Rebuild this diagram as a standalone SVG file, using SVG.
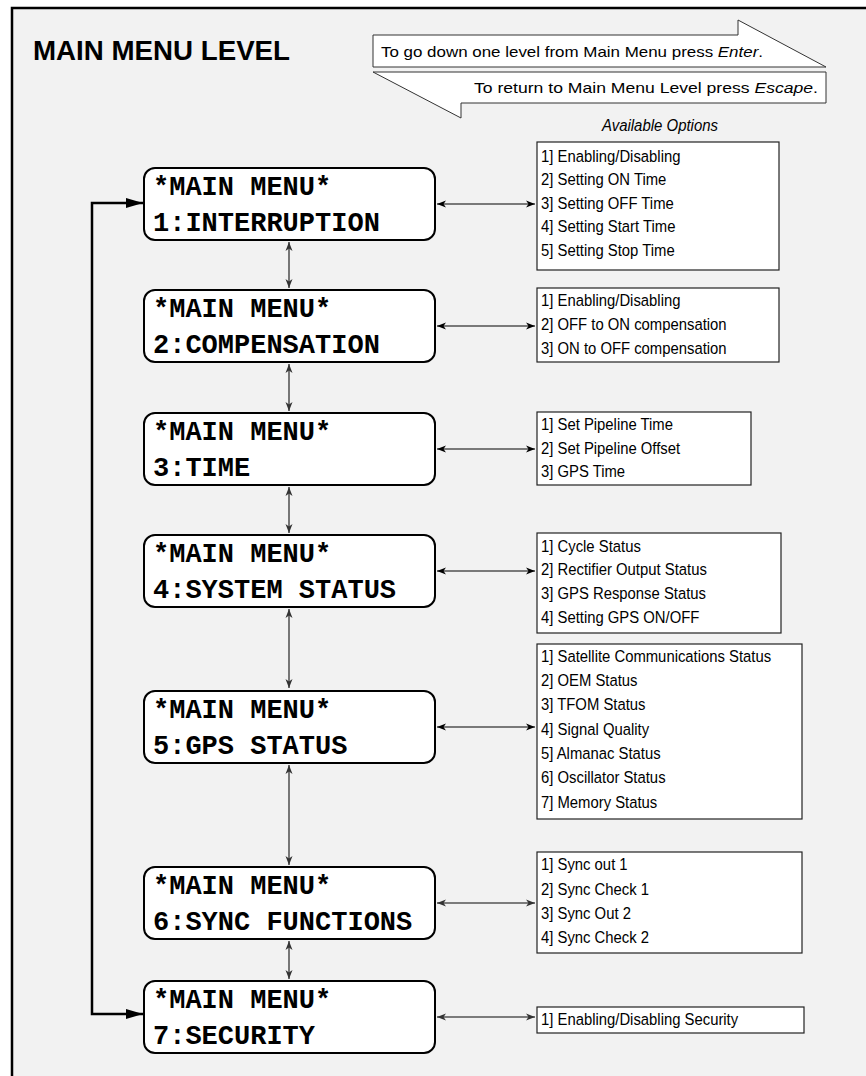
<svg xmlns="http://www.w3.org/2000/svg" width="866" height="1076" viewBox="0 0 866 1076">
  <style>
    .menu { fill: #ffffff; stroke: #000000; stroke-width: 2; }
    .mtxt { font-family: "Liberation Mono", "Courier New", monospace; font-weight: bold; font-size: 27px; fill: #000000; }
    .list { fill: #ffffff; stroke: #222222; stroke-width: 1.2; }
    .opt { font-family: "Liberation Sans", Arial, sans-serif; font-size: 16.5px; fill: #000000; }
    .hint { fill: #ffffff; stroke: #333333; stroke-width: 1; }
    .htxt { font-family: "Liberation Sans", Arial, sans-serif; font-size: 15px; fill: #000000; }
    .link { fill: none; stroke: #000000; stroke-width: 1; marker-start: url(#tip); marker-end: url(#tip); }
    .vlink { fill: none; stroke: #333333; stroke-width: 1.3; marker-start: url(#tipg); marker-end: url(#tipg); }
    .glink { fill: none; stroke: #555555; stroke-width: 1.3; marker-start: url(#tipg); marker-end: url(#tipg); }
    .loop { fill: none; stroke: #000000; stroke-width: 2.5; marker-start: url(#big); marker-end: url(#big); }
  </style>
  <defs>
    <marker id="tip" markerUnits="userSpaceOnUse" markerWidth="10" markerHeight="8" refX="9" refY="4" orient="auto-start-reverse">
      <path d="M0,0.5 L9,4 L0,7.5 L2.5,4 z" fill="#000000"/>
    </marker>
    <marker id="tipg" markerUnits="userSpaceOnUse" markerWidth="10" markerHeight="8" refX="9" refY="4" orient="auto-start-reverse">
      <path d="M0,0.5 L9,4 L0,7.5 L2.5,4 z" fill="#333333"/>
    </marker>
    <marker id="big" markerUnits="userSpaceOnUse" markerWidth="18" markerHeight="12" refX="17" refY="6" orient="auto-start-reverse">
      <path d="M0,1 L17,6 L0,11 z" fill="#000000"/>
    </marker>
  </defs>

  <!-- page and frame -->
  <rect x="0" y="0" width="866" height="1076" fill="#ffffff"/>
  <rect x="12" y="8" width="900" height="1120" fill="#f2f2f2" stroke="#000000" stroke-width="2.5"/>

  <text x="33" y="60" font-family="'Liberation Sans', Arial, sans-serif" font-weight="bold" font-size="28" fill="#000000" textLength="257" lengthAdjust="spacingAndGlyphs">MAIN MENU LEVEL</text>

  <!-- navigation hints -->
  <g id="hint-enter">
    <polygon class="hint" points="373,35 738,35 738,20 826,67 373,67"/>
    <text class="htxt" x="381" y="57" textLength="382" lengthAdjust="spacingAndGlyphs">To go down one level from Main Menu press <tspan font-style="italic">Enter</tspan>.</text>
  </g>
  <g id="hint-escape">
    <polygon class="hint" points="373,72 826,72 826,103 461,103 461,118"/>
    <text class="htxt" x="474" y="93" textLength="344" lengthAdjust="spacingAndGlyphs">To return to Main Menu Level press <tspan font-style="italic">Escape</tspan>.</text>
  </g>
  <text x="660" y="131" text-anchor="middle" font-family="'Liberation Sans', Arial, sans-serif" font-style="italic" font-size="16" fill="#000000" textLength="116" lengthAdjust="spacingAndGlyphs">Available Options</text>

  <!-- connectors -->
  <g id="connectors">
    <path class="loop" d="M143,1014 L92,1014 L92,203 L143,203"/>
    <path class="vlink" d="M289,242 V288"/>
    <path class="vlink" d="M289,364 V411"/>
    <path class="vlink" d="M289,487 V533"/>
    <path class="vlink" d="M289,609 V688"/>
    <path class="vlink" d="M289,765 V865"/>
    <path class="vlink" d="M289,941 V979"/>
    <path class="link" d="M437,204 H535"/>
    <path class="link" d="M437,326 H535"/>
    <path class="link" d="M437,449 H535"/>
    <path class="link" d="M437,571 H535"/>
    <path class="link" d="M437,727 H535"/>
    <path class="glink" d="M437,903 H535"/>
    <path class="glink" d="M437,1017 H535"/>
  </g>

  <!-- menu screens -->
  <g id="menu-1">
    <rect class="menu" x="144" y="168" width="291" height="72" rx="11"/>
    <text class="mtxt" x="153" y="195">*MAIN MENU*</text>
    <text class="mtxt" x="153" y="231">1:INTERRUPTION</text>
  </g>
  <g id="menu-2">
    <rect class="menu" x="144" y="290" width="291" height="72" rx="11"/>
    <text class="mtxt" x="153" y="317">*MAIN MENU*</text>
    <text class="mtxt" x="153" y="353">2:COMPENSATION</text>
  </g>
  <g id="menu-3">
    <rect class="menu" x="144" y="413" width="291" height="72" rx="11"/>
    <text class="mtxt" x="153" y="440">*MAIN MENU*</text>
    <text class="mtxt" x="153" y="476">3:TIME</text>
  </g>
  <g id="menu-4">
    <rect class="menu" x="144" y="535" width="291" height="72" rx="11"/>
    <text class="mtxt" x="153" y="562">*MAIN MENU*</text>
    <text class="mtxt" x="153" y="598">4:SYSTEM STATUS</text>
  </g>
  <g id="menu-5">
    <rect class="menu" x="144" y="691" width="291" height="72" rx="11"/>
    <text class="mtxt" x="153" y="718">*MAIN MENU*</text>
    <text class="mtxt" x="153" y="754">5:GPS STATUS</text>
  </g>
  <g id="menu-6">
    <rect class="menu" x="144" y="867" width="291" height="72" rx="11"/>
    <text class="mtxt" x="153" y="894">*MAIN MENU*</text>
    <text class="mtxt" x="153" y="930">6:SYNC FUNCTIONS</text>
  </g>
  <g id="menu-7">
    <rect class="menu" x="144" y="981" width="291" height="72" rx="11"/>
    <text class="mtxt" x="153" y="1008">*MAIN MENU*</text>
    <text class="mtxt" x="153" y="1044">7:SECURITY</text>
  </g>

  <!-- option lists -->
  <g id="options-1">
    <rect class="list" x="537" y="142" width="242" height="128"/>
    <g class="opt" transform="translate(541 0) scale(0.9 1)">
      <text x="0" y="162">1] Enabling/Disabling</text>
      <text x="0" y="185.5">2] Setting ON Time</text>
      <text x="0" y="209">3] Setting OFF Time</text>
      <text x="0" y="232.5">4] Setting Start Time</text>
      <text x="0" y="256">5] Setting Stop Time</text>
    </g>
  </g>
  <g id="options-2">
    <rect class="list" x="537" y="288" width="242" height="74"/>
    <g class="opt" transform="translate(541 0) scale(0.9 1)">
      <text x="0" y="306">1] Enabling/Disabling</text>
      <text x="0" y="330">2] OFF to ON compensation</text>
      <text x="0" y="354">3] ON to OFF compensation</text>
    </g>
  </g>
  <g id="options-3">
    <rect class="list" x="537" y="412" width="214" height="73"/>
    <g class="opt" transform="translate(541 0) scale(0.9 1)">
      <text x="0" y="430">1] Set Pipeline Time</text>
      <text x="0" y="454">2] Set Pipeline Offset</text>
      <text x="0" y="477.5">3] GPS Time</text>
    </g>
  </g>
  <g id="options-4">
    <rect class="list" x="537" y="533" width="244" height="100"/>
    <g class="opt" transform="translate(541 0) scale(0.9 1)">
      <text x="0" y="552">1] Cycle Status</text>
      <text x="0" y="575.5">2] Rectifier Output Status</text>
      <text x="0" y="599">3] GPS Response Status</text>
      <text x="0" y="623">4] Setting GPS ON/OFF</text>
    </g>
  </g>
  <g id="options-5">
    <rect class="list" x="537" y="644" width="265" height="175"/>
    <g class="opt" transform="translate(541 0) scale(0.9 1)">
      <text x="0" y="662">1] Satellite Communications Status</text>
      <text x="0" y="686.5">2] OEM Status</text>
      <text x="0" y="710.5">3] TFOM Status</text>
      <text x="0" y="735">4] Signal Quality</text>
      <text x="0" y="759">5] Almanac Status</text>
      <text x="0" y="783.5">6] Oscillator Status</text>
      <text x="0" y="808">7] Memory Status</text>
    </g>
  </g>
  <g id="options-6">
    <rect class="list" x="537" y="852" width="265" height="101"/>
    <g class="opt" transform="translate(541 0) scale(0.9 1)">
      <text x="0" y="870">1] Sync out 1</text>
      <text x="0" y="895">2] Sync Check 1</text>
      <text x="0" y="919">3] Sync Out 2</text>
      <text x="0" y="943">4] Sync Check 2</text>
    </g>
  </g>
  <g id="options-7">
    <rect class="list" x="537" y="1007" width="267" height="26"/>
    <g class="opt" transform="translate(541 0) scale(0.9 1)">
      <text x="0" y="1025">1] Enabling/Disabling Security</text>
    </g>
  </g>
</svg>
